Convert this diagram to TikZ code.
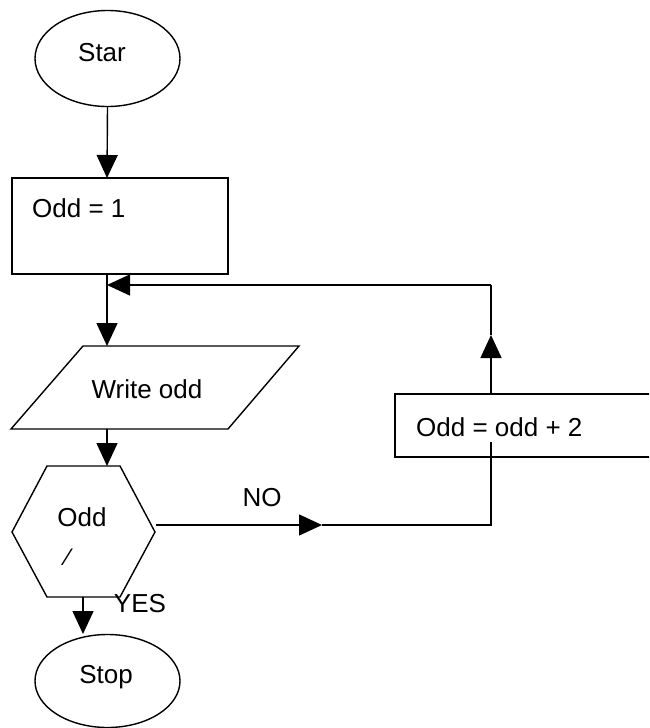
\documentclass[tikz,border=0pt]{standalone}
\usepackage{fontspec}
\setmainfont{Liberation Sans}
\usetikzlibrary{arrows.meta,shapes.geometric}
\begin{document}
\begin{tikzpicture}[x=1pt,y=-1pt,
  line/.style={line width=1.4pt,line cap=butt,line join=miter},
  arr/.style={line,-{Triangle[width=21pt,length=23pt]}},
  txt/.style={font=\fontsize{26}{30}\selectfont,inner sep=0pt},
  oval/.style={ellipse,draw,line width=1.4pt,minimum width=145pt,minimum height=96pt,inner sep=0pt},
  box/.style={rectangle,draw,line width=1.4pt,inner sep=0pt}]
\useasboundingbox (0,0) rectangle (649,728);
\clip (0,0) rectangle (649,728);
% Start
\node[oval] (star) at (107.5,58.5) {};
\node[txt] (startxt) at (102,53) {Star};
% Odd = 1
\node[box,minimum width=216pt,minimum height=96pt] (init) at (120,226) {};
\node[txt,anchor=west] (inittxt) at (32,208) {Odd = 1};
% Write odd
\coordinate (wtop) at (107,346);
\coordinate (wbot) at (107,429);
\draw[line] (83,346) -- (299,346) -- (228,429) -- (11,429) -- cycle;
\node[txt] (writetxt) at (147,389) {Write odd};
% Decision
\coordinate (dtop) at (107,466);
\coordinate (dbot) at (83,597);
\coordinate (dright) at (156,525);
\draw[line] (47,466) -- (120,466) -- (155,532) -- (120,597) -- (47,597) -- (12,532) -- cycle;
\node[txt] (dectxt) at (82,517) {Odd};
\node[font=\fontsize{24}{26}\selectfont,inner sep=0pt] (slash) at (68,557) {⁄};
% Odd = odd + 2
\node[box,minimum width=270pt,minimum height=63pt] (upd) at (530,425.5) {};
\node[txt,anchor=west] (updtxt) at (416,427) {Odd = odd + 2};
% Stop
\node[oval,minimum height=93pt] (stop) at (107.5,681) {};
\node[txt] (stoptxt) at (106,677) {Stop};
% helper coordinates
\coordinate (j1) at (107,285);
\coordinate (c1) at (491,285);
\coordinate (upmid) at (491,335);
\coordinate (upbot) at (491,394);
\coordinate (inside) at (491,442);
\coordinate (c2) at (491,525);
\coordinate (nomid) at (322,525);
\coordinate (stoptop) at (83,634);
% connectors
\draw[arr] (star.south) -- (107,178);
\draw[line] (107,274) -- (j1);
\draw[arr] (j1) -- (wtop);
\draw[arr] (wbot) -- (dtop);
\draw[arr] (dright) -- (nomid);
\draw[line] (nomid) -- (c2) -- (inside);
\draw[arr] (upbot) -- (upmid);
\draw[line] (upmid) -- (c1);
\draw[arr] (c1) -- (j1);
\draw[arr] (dbot) -- (stoptop);
% labels
\node[txt] (nolbl) at (262,498) {NO};
\node[txt] (yeslbl) at (140,604) {YES};
\end{tikzpicture}
\end{document}
